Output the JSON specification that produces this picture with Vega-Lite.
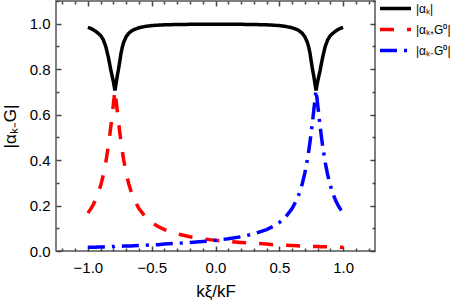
{
  "$schema": "https://vega.github.io/schema/vega-lite/v6.json",
  "width": 319,
  "height": 250,
  "autosize": {"type": "none"},
  "padding": {"left": 56, "top": 1, "right": 75, "bottom": 56},
  "config": {
    "font": "Liberation Sans",
    "view": {"stroke": "#555555", "strokeWidth": 1.5},
    "axis": {"grid": false, "domain": false, "tickColor": "#444444", "tickWidth": 1.5, "labelColor": "#000000", "titleColor": "#000000", "labelFontSize": 15, "titleFontWeight": "normal", "labelOverlap": false, "labelFlush": false},
    "legend": {"symbolType": "stroke", "symbolSize": 961, "symbolStrokeWidth": 3.5, "labelFontSize": 12, "labelColor": "#000000", "clipHeight": 21, "rowPadding": 0, "padding": 0, "labelOffset": 3, "orient": "none", "legendX": 322, "legendY": -3}
  },
  "data": {"values": [
    {"k": -1.0, "a": 0.984, "p": 0.1672, "m": 0.016},
    {"k": -0.98, "a": 0.980, "p": 0.1830, "m": 0.0165},
    {"k": -0.96, "a": 0.974, "p": 0.2019, "m": 0.017},
    {"k": -0.94, "a": 0.967, "p": 0.2247, "m": 0.017},
    {"k": -0.92, "a": 0.958, "p": 0.2528, "m": 0.0175},
    {"k": -0.90, "a": 0.948, "p": 0.2879, "m": 0.018},
    {"k": -0.88, "a": 0.930, "p": 0.3323, "m": 0.018},
    {"k": -0.86, "a": 0.900, "p": 0.3891, "m": 0.0185},
    {"k": -0.84, "a": 0.853, "p": 0.4611, "m": 0.019},
    {"k": -0.83, "a": 0.825, "p": 0.5033, "m": 0.019},
    {"k": -0.82, "a": 0.795, "p": 0.5492, "m": 0.019},
    {"k": -0.81, "a": 0.770, "p": 0.5980, "m": 0.0195},
    {"k": -0.80, "a": 0.744, "p": 0.6481, "m": 0.0195},
    {"k": -0.795, "a": 0.728, "p": 0.6730, "m": 0.0195},
    {"k": -0.79, "a": 0.712, "p": 0.6975, "m": 0.0195},
    {"k": -0.788, "a": 0.706, "p": 0.7071, "m": 0.02},
    {"k": -0.785, "a": 0.716, "p": 0.6926, "m": 0.02},
    {"k": -0.78, "a": 0.735, "p": 0.6680, "m": 0.02},
    {"k": -0.775, "a": 0.752, "p": 0.6431, "m": 0.02},
    {"k": -0.77, "a": 0.770, "p": 0.6180, "m": 0.02},
    {"k": -0.76, "a": 0.800, "p": 0.5684, "m": 0.02},
    {"k": -0.75, "a": 0.835, "p": 0.5212, "m": 0.0205},
    {"k": -0.74, "a": 0.872, "p": 0.4775, "m": 0.021},
    {"k": -0.73, "a": 0.898, "p": 0.4377, "m": 0.021},
    {"k": -0.72, "a": 0.918, "p": 0.4022, "m": 0.0215},
    {"k": -0.70, "a": 0.943, "p": 0.3426, "m": 0.022},
    {"k": -0.68, "a": 0.958, "p": 0.2959, "m": 0.022},
    {"k": -0.66, "a": 0.967, "p": 0.2592, "m": 0.0225},
    {"k": -0.64, "a": 0.974, "p": 0.2298, "m": 0.023},
    {"k": -0.60, "a": 0.9822, "p": 0.1865, "m": 0.024},
    {"k": -0.55, "a": 0.9883, "p": 0.1502, "m": 0.025},
    {"k": -0.50, "a": 0.9917, "p": 0.1255, "m": 0.027},
    {"k": -0.45, "a": 0.9938, "p": 0.1076, "m": 0.028},
    {"k": -0.40, "a": 0.9951, "p": 0.0941, "m": 0.031},
    {"k": -0.30, "a": 0.9966, "p": 0.0752, "m": 0.034},
    {"k": -0.20, "a": 0.9973, "p": 0.0626, "m": 0.0373},
    {"k": -0.10, "a": 0.9977, "p": 0.0536, "m": 0.0415},
    {"k": 0.0, "a": 0.9978, "p": 0.0468, "m": 0.0468},
    {"k": 0.10, "a": 0.9977, "p": 0.0415, "m": 0.0536},
    {"k": 0.20, "a": 0.9973, "p": 0.0373, "m": 0.0626},
    {"k": 0.30, "a": 0.9966, "p": 0.034, "m": 0.0752},
    {"k": 0.40, "a": 0.9951, "p": 0.031, "m": 0.0941},
    {"k": 0.45, "a": 0.9938, "p": 0.028, "m": 0.1076},
    {"k": 0.50, "a": 0.9917, "p": 0.027, "m": 0.1255},
    {"k": 0.55, "a": 0.9883, "p": 0.025, "m": 0.1502},
    {"k": 0.60, "a": 0.9822, "p": 0.024, "m": 0.1865},
    {"k": 0.64, "a": 0.974, "p": 0.023, "m": 0.2298},
    {"k": 0.66, "a": 0.967, "p": 0.0225, "m": 0.2592},
    {"k": 0.68, "a": 0.958, "p": 0.022, "m": 0.2959},
    {"k": 0.70, "a": 0.943, "p": 0.022, "m": 0.3426},
    {"k": 0.72, "a": 0.918, "p": 0.0215, "m": 0.4022},
    {"k": 0.73, "a": 0.898, "p": 0.021, "m": 0.4377},
    {"k": 0.74, "a": 0.872, "p": 0.021, "m": 0.4775},
    {"k": 0.75, "a": 0.835, "p": 0.0205, "m": 0.5212},
    {"k": 0.76, "a": 0.800, "p": 0.02, "m": 0.5684},
    {"k": 0.77, "a": 0.770, "p": 0.02, "m": 0.6180},
    {"k": 0.775, "a": 0.752, "p": 0.02, "m": 0.6431},
    {"k": 0.78, "a": 0.735, "p": 0.02, "m": 0.6680},
    {"k": 0.785, "a": 0.716, "p": 0.02, "m": 0.6926},
    {"k": 0.788, "a": 0.706, "p": 0.02, "m": 0.7071},
    {"k": 0.79, "a": 0.712, "p": 0.0195, "m": 0.6975},
    {"k": 0.795, "a": 0.728, "p": 0.0195, "m": 0.6730},
    {"k": 0.80, "a": 0.744, "p": 0.0195, "m": 0.6481},
    {"k": 0.81, "a": 0.770, "p": 0.0195, "m": 0.5980},
    {"k": 0.82, "a": 0.795, "p": 0.019, "m": 0.5492},
    {"k": 0.83, "a": 0.825, "p": 0.019, "m": 0.5033},
    {"k": 0.84, "a": 0.853, "p": 0.019, "m": 0.4611},
    {"k": 0.86, "a": 0.900, "p": 0.0185, "m": 0.3891},
    {"k": 0.88, "a": 0.930, "p": 0.018, "m": 0.3323},
    {"k": 0.90, "a": 0.948, "p": 0.018, "m": 0.2879},
    {"k": 0.92, "a": 0.958, "p": 0.0175, "m": 0.2528},
    {"k": 0.94, "a": 0.967, "p": 0.017, "m": 0.2247},
    {"k": 0.96, "a": 0.974, "p": 0.017, "m": 0.2019},
    {"k": 0.98, "a": 0.980, "p": 0.0165, "m": 0.1830},
    {"k": 1.0, "a": 0.984, "p": 0.016, "m": 0.1672}
  ]},
  "transform": [{"fold": ["a", "p", "m"], "as": ["series", "value"]}],
  "layer": [
    {
      "mark": {"type": "line", "strokeWidth": 3.5, "clip": true},
      "encoding": {
        "x": {"field": "k", "type": "quantitative", "scale": {"domain": [-1.25, 1.25], "nice": false, "zero": false},
          "axis": {"orient": "bottom", "values": [-1.2,-1.1,-1.0,-0.9,-0.8,-0.7,-0.6,-0.5,-0.4,-0.3,-0.2,-0.1,0,0.1,0.2,0.3,0.4,0.5,0.6,0.7,0.8,0.9,1.0,1.1,1.2],
            "labelExpr": "abs(datum.value*2-round(datum.value*2))<0.001 ? format(datum.value,'.1f') : ''",
            "tickSize": {"condition": {"test": "abs(datum.value*2-round(datum.value*2))<0.001", "value": -5}, "value": -3},
            "labelPadding": 14, "title": "kξ/kF", "titleFontSize": 17, "titlePadding": 6}},
        "y": {"field": "value", "type": "quantitative", "scale": {"domain": [0, 1.1], "nice": false},
          "axis": {"orient": "left", "values": [0,0.1,0.2,0.3,0.4,0.5,0.6,0.7,0.8,0.9,1.0,1.1],
            "labelExpr": "abs(datum.value*5-round(datum.value*5))<0.001 ? format(datum.value,'.1f') : ''",
            "tickSize": {"condition": {"test": "abs(datum.value*5-round(datum.value*5))<0.001", "value": -5}, "value": -3},
            "labelPadding": 11, "title": "|αₖ₋G|", "titleFontSize": 17, "titlePadding": 10}},
        "color": {"field": "series", "type": "nominal", "scale": {"domain": ["a", "p", "m"], "range": ["#000000", "#ff0000", "#0000ff"]},
          "legend": {"title": null, "labelExpr": "datum.label=='a' ? '|αₖ|' : (datum.label=='p' ? '|αₖ₊G⁰|' : '|αₖ₋G⁰|')"}},
        "strokeDash": {"field": "series", "type": "nominal", "scale": {"domain": ["a", "p", "m"], "range": [[1, 0], [14, 13], [17, 7, 3, 7]]},
          "legend": {"title": null, "labelExpr": "datum.label=='a' ? '|αₖ|' : (datum.label=='p' ? '|αₖ₊G⁰|' : '|αₖ₋G⁰|')"}}
      }
    },
    {
      "mark": {"type": "line", "opacity": 0},
      "encoding": {
        "x": {"field": "k", "type": "quantitative", "scale": {"domain": [-1.25, 1.25], "nice": false, "zero": false},
          "axis": {"orient": "top", "values": [-1.2,-1.1,-1.0,-0.9,-0.8,-0.7,-0.6,-0.5,-0.4,-0.3,-0.2,-0.1,0,0.1,0.2,0.3,0.4,0.5,0.6,0.7,0.8,0.9,1.0,1.1,1.2],
            "labels": false, "title": null,
            "tickSize": {"condition": {"test": "abs(datum.value*2-round(datum.value*2))<0.001", "value": -5}, "value": -3}}},
        "y": {"field": "value", "type": "quantitative", "scale": {"domain": [0, 1.1], "nice": false},
          "axis": {"orient": "right", "values": [0,0.1,0.2,0.3,0.4,0.5,0.6,0.7,0.8,0.9,1.0,1.1],
            "labels": false, "title": null,
            "tickSize": {"condition": {"test": "abs(datum.value*5-round(datum.value*5))<0.001", "value": -5}, "value": -3}}},
        "detail": {"field": "series", "type": "nominal"}
      }
    }
  ],
  "resolve": {"axis": {"x": "independent", "y": "independent"}}
}
